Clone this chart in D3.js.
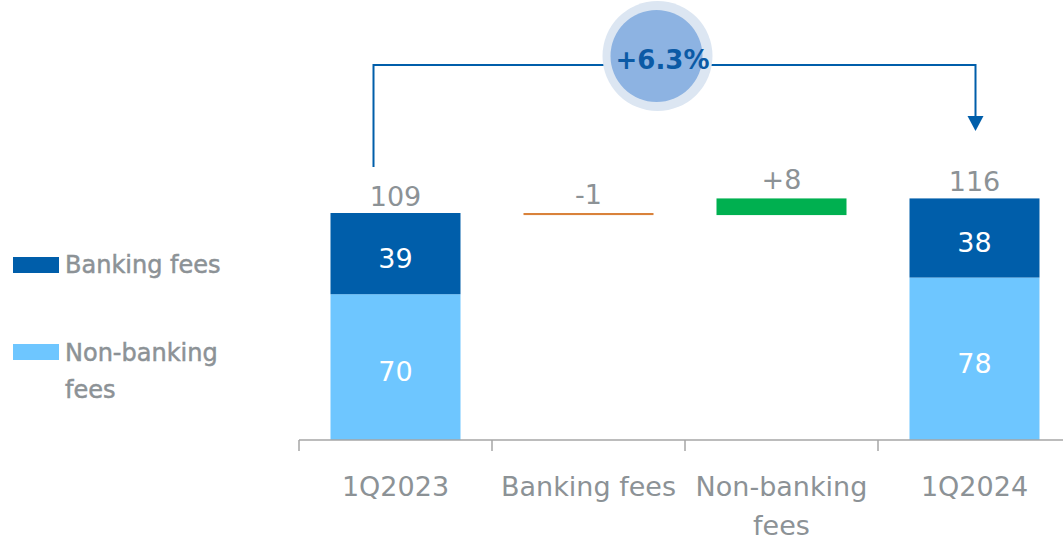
<!DOCTYPE html>
<html>
<head>
<meta charset="utf-8">
<script src="https://cdn.jsdelivr.net/npm/d3@7"></script>
<style>
  body { margin: 0; background: #fff; }
  text { font-family: "DejaVu Sans", Verdana, sans-serif; }
</style>
</head>
<body>
<script>
var width = 1063,
    height = 540;

// data
var categories = ['1Q2023', 'Banking fees', 'Non-banking fees', '1Q2024'];
var nonBanking = [70, null, null, 78];
var banking = [39, null, null, 38];
var totals = [109, null, null, 116];
var deltas = [null, -1, 8, null];
var deltaLabels = [null, '-1', '+8', null];
var growthLabel = '+6.3%';
var legendItems = ['Banking fees', 'Non-banking fees'];

var colBanking = '#005EAA',
    colNonBanking = '#6EC6FF',
    colNeg = '#D9823B',
    colPos = '#00B050',
    textGrey = '#8C9296';

var svg = d3.select('body')
  .append('svg')
    .attr('width', width)
    .attr('height', height)

var x = d3.scaleBand()
    .domain(categories)
    .range([299, 1071])
    .paddingInner(0)
    .paddingOuter(0)

var y = d3.scaleLinear()
    .domain([0, 109])
    .range([440, 213])

var barW = 130;
function bx(d){ return x(d) + (x.bandwidth() - barW) / 2; }
function cx(d){ return x(d) + x.bandwidth() / 2; }

// stacked bars for totals
var ends = categories.filter(function(d, i){ return totals[i] != null; });
ends.forEach(function(c){
  var i = categories.indexOf(c);
  svg.append('rect')
      .attr('x', bx(c))
      .attr('width', barW)
      .attr('y', y(nonBanking[i]))
      .attr('height', y(0) - y(nonBanking[i]))
      .attr('fill', colNonBanking)
  svg.append('rect')
      .attr('x', bx(c))
      .attr('width', barW)
      .attr('y', y(totals[i]))
      .attr('height', y(nonBanking[i]) - y(totals[i]))
      .attr('fill', colBanking)
  svg.append('text')
      .attr('x', cx(c))
      .attr('y', y(nonBanking[i] / 2) + 14)
      .attr('text-anchor', 'middle')
      .attr('font-size', 27)
      .attr('fill', '#fff')
      .text(nonBanking[i])
  svg.append('text')
      .attr('x', cx(c))
      .attr('y', y(nonBanking[i] + banking[i] / 2) + 14)
      .attr('text-anchor', 'middle')
      .attr('font-size', 27)
      .attr('fill', '#fff')
      .text(banking[i])
  svg.append('text')
      .attr('x', cx(c))
      .attr('y', y(totals[i]) - 7)
      .attr('text-anchor', 'middle')
      .attr('font-size', 27)
      .attr('fill', textGrey)
      .text(totals[i])
});

// waterfall deltas
var running = totals[0];
categories.forEach(function(c, i){
  if (deltas[i] == null) return;
  var start = running, end = running + deltas[i];
  running = end;
  var top = y(Math.max(start, end)), bot = y(Math.min(start, end));
  svg.append('rect')
      .attr('x', bx(c))
      .attr('width', barW)
      .attr('y', top)
      .attr('height', Math.max(bot - top, 2))
      .attr('fill', deltas[i] < 0 ? colNeg : colPos)
  svg.append('text')
      .attr('x', cx(c))
      .attr('y', top - 9)
      .attr('text-anchor', 'middle')
      .attr('font-size', 27)
      .attr('fill', textGrey)
      .text(deltaLabels[i])
});

// x axis
var axis = svg.append('g')
    .attr('transform', 'translate(0,440)')
axis.append('line')
    .attr('x1', 299).attr('x2', width)
    .attr('stroke', '#A6A6A6').attr('stroke-width', 1.5)
categories.forEach(function(c){
  axis.append('line')
      .attr('x1', x(c)).attr('x2', x(c))
      .attr('y1', 0).attr('y2', 11)
      .attr('stroke', '#A6A6A6').attr('stroke-width', 1.5)
});
categories.forEach(function(c){
  var words = c === 'Non-banking fees' ? ['Non-banking', 'fees'] : [c];
  var t = axis.append('text')
      .attr('text-anchor', 'middle')
      .attr('font-size', 27)
      .attr('fill', textGrey)
  words.forEach(function(w, k){
    t.append('tspan')
        .attr('x', cx(c))
        .attr('y', 56 + k * 39)
        .text(w)
  });
});

// growth bracket
var x0 = cx(categories[0]) - 22,
    x1 = cx(categories[3]) + 1,
    topY = 65;
svg.append('path')
    .attr('d', 'M' + x0 + ',' + (y(totals[0]) - 46) + 'V' + topY + 'H' + x1 + 'V118')
    .attr('fill', 'none')
    .attr('stroke', colBanking)
    .attr('stroke-width', 2)
svg.append('path')
    .attr('d', 'M' + (x1 - 8) + ',116L' + (x1 + 8) + ',116L' + x1 + ',131Z')
    .attr('fill', colBanking)

var circX = (x0 + x1) / 2 - 17;
svg.append('circle')
    .attr('cx', circX).attr('cy', 56).attr('r', 55)
    .attr('fill', '#DCE6F2')
svg.append('circle')
    .attr('cx', circX - 1).attr('cy', 56).attr('r', 46)
    .attr('fill', '#8DB3E2')
svg.append('text')
    .attr('x', circX + 5)
    .attr('y', 69)
    .attr('text-anchor', 'middle')
    .attr('font-size', 26)
    .attr('font-weight', 'bold')
    .attr('fill', '#0B5AA5')
    .text(growthLabel)

// legend
var legend = svg.append('g')
legend.append('rect')
    .attr('x', 13).attr('y', 257).attr('width', 46).attr('height', 16)
    .attr('fill', colBanking)
legend.append('text')
    .attr('x', 65).attr('y', 273)
    .attr('font-size', 24)
    .attr('fill', textGrey)
    .attr('stroke', textGrey)
    .attr('stroke-width', 0.5)
    .text(legendItems[0])
legend.append('rect')
    .attr('x', 13).attr('y', 344).attr('width', 46).attr('height', 16)
    .attr('fill', colNonBanking)
var lt = legend.append('text')
    .attr('font-size', 24)
    .attr('fill', textGrey)
    .attr('stroke', textGrey)
    .attr('stroke-width', 0.5)
lt.append('tspan').attr('x', 65).attr('y', 361).text('Non-banking')
lt.append('tspan').attr('x', 65).attr('y', 398).text('fees')
</script>
</body>
</html>
